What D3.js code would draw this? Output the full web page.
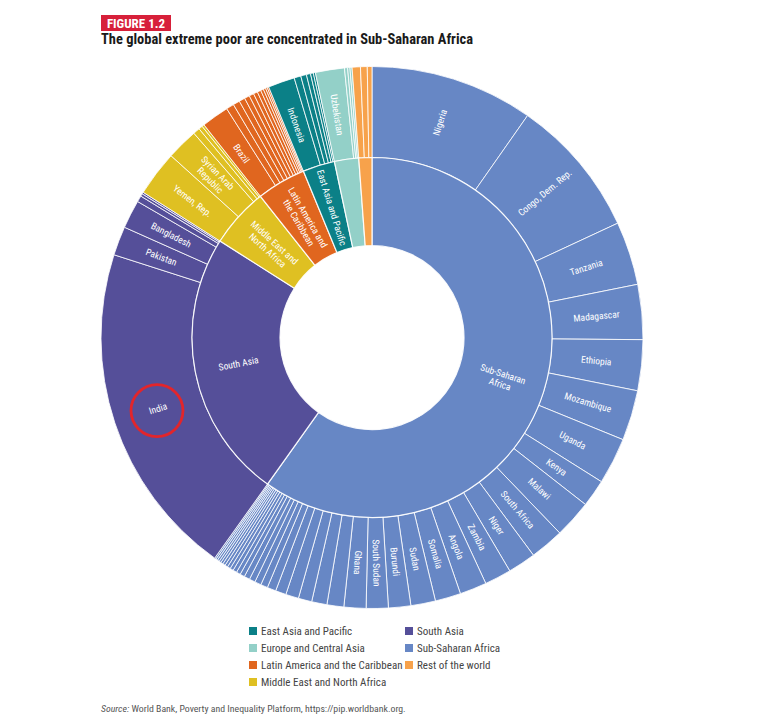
<!DOCTYPE html>
<html><head><meta charset="utf-8">
<script src="https://cdn.jsdelivr.net/npm/d3@7"></script>
<style>
body{margin:0;background:#fff;}
svg text{font-family:"Liberation Sans Narrow","Roboto Condensed","DejaVu Sans Condensed","Arial Narrow",sans-serif;}
</style></head><body>
<svg id="chart" width="759" height="719"></svg>
<script>
// ---------- DATA (extreme poor, millions) ----------
const regionNames = ["Sub-Saharan Africa","South Asia","Middle East and North Africa","Latin America and the Caribbean","East Asia and Pacific","Europe and Central Asia","Rest of the world"];
const regionColors = ["#6787c5","#554f99","#dfc022","#e0661f","#0b8087","#93d0c8","#f7a24b"];
const regionLabels = [["Sub-Saharan","Africa"],["South Asia"],["Middle East and","North Africa"],["Latin America and","the Caribbean"],["East Asia and Pacific"],[],[]];

const ssaCountries = ["Nigeria","Congo, Dem. Rep.","Tanzania","Madagascar","Ethiopia","Mozambique","Uganda","Kenya","Malawi","South Africa","Niger","Zambia","Angola","Somalia","Sudan","Burundi","South Sudan","Ghana","Burkina Faso","Mali","Chad","Cameroon","Zimbabwe","Rwanda","Benin","Guinea","Côte d'Ivoire","Sierra Leone","Central African Republic","Togo","Liberia","Lesotho","Senegal","Eritrea","Namibia","Botswana","Eswatini","Gambia, The","Guinea-Bissau","Congo, Rep."];
const ssaValues = [63,54,24.5,21.2,19.6,19.4,18,10.6,14.6,13.1,10.8,10.3,10.4,9.9,9.5,8.6,8.5,8.5,6.5,5.9,5.2,5.0,4.1,3.4,2.7,2.5,2.3,2.2,1.8,1.6,1.5,1.3,1.2,1.1,1.0,0.9,0.8,0.8,0.7,0.6];
const saCountries = ["India","Pakistan","Bangladesh","Nepal","Afghanistan","Sri Lanka"];
const saValues = [130,11.2,11,2.4,1.0,0.7];
const menaCountries = ["Yemen, Rep.","Syrian Arab Republic","Egypt, Arab Rep.","Iraq","Djibouti"];
const menaValues = [17.5,12.2,2.6,1.5,0.9];
const lacCountries = ["Brazil","Colombia","Haiti","Mexico","Venezuela, RB","Honduras","Guatemala","Peru","Bolivia","Ecuador","Argentina","Nicaragua"];
const lacValues = [10.6,3.0,2.6,2.3,2.0,1.8,1.6,1.4,1.1,0.9,0.7,0.6];
const eapCountries = ["Indonesia","Philippines","Papua New Guinea","China","Myanmar","Lao PDR"];
const eapValues = [10.3,2.6,2.2,1.6,1.1,0.8];
const ecaCountries = ["Uzbekistan","Tajikistan","Türkiye","Kyrgyz Republic"];
const ecaValues = [11.2,1.2,0.9,0.8];
const restCountries = ["North America","Western Europe","Other high income"];
const restValues = [3.2,2.6,1.8];

const countryNames = [ssaCountries,saCountries,menaCountries,lacCountries,eapCountries,ecaCountries,restCountries];
const countryValues = [ssaValues,saValues,menaValues,lacValues,eapValues,ecaValues,restValues];

// countries that carry a label in the figure, with their displayed lines
const labelledCountries = ["Nigeria","Congo, Dem. Rep.","Tanzania","Madagascar","Ethiopia","Mozambique","Uganda","Kenya","Malawi","South Africa","Niger","Zambia","Angola","Somalia","Sudan","Burundi","South Sudan","Ghana","India","Pakistan","Bangladesh","Yemen, Rep.","Syrian Arab Republic","Brazil","Indonesia","Uzbekistan"];
const labelLines = {"Syrian Arab Republic":["Syrian Arab","Republic"]};

const legendCol1 = ["East Asia and Pacific","Europe and Central Asia","Latin America and the Caribbean","Middle East and North Africa"];
const legendCol2 = ["South Asia","Sub-Saharan Africa","Rest of the world"];

const figureTag = "FIGURE 1.2";
const titleText = "The global extreme poor are concentrated in Sub-Saharan Africa";
const sourceLabel = "Source:";
const sourceText = " World Bank, Poverty and Inequality Platform, https://pip.worldbank.org.";
const highlighted = "India";

// ---------- DRAWING ----------
const svg = d3.select("#chart");
const cx = 372, cy = 337.5, rHole = 92, rMid = 180, rOuter = 271;
const colorOf = d3.scaleOrdinal().domain(regionNames).range(regionColors);

const regionData = regionNames.map((name,i)=>({
  name, labels: regionLabels[i],
  countries: countryNames[i].map((c,j)=>({name:c, region:name, value:countryValues[i][j]}))
}));
regionData.forEach(r => r.value = d3.sum(r.countries, c => c.value));

const pie = d3.pie().sort(null).value(d=>d.value).startAngle(0).endAngle(2*Math.PI);
const innerArcs = pie(regionData);
const outerArcs = pie(regionData.flatMap(r => r.countries));

const arcInner = d3.arc().innerRadius(rHole).outerRadius(rMid);
const arcOuter = d3.arc().innerRadius(rMid).outerRadius(rOuter);

const g = svg.append("g").attr("transform",`translate(${cx},${cy})`);

g.selectAll("path.country").data(outerArcs).join("path")
  .attr("class","country").attr("d",arcOuter)
  .attr("fill", d => colorOf(d.data.region))
  .attr("stroke","#ffffff").attr("stroke-opacity",0.8).attr("stroke-width",1);

g.selectAll("path.region").data(innerArcs).join("path")
  .attr("class","region").attr("d",arcInner)
  .attr("fill", d => colorOf(d.data.name))
  .attr("stroke","#ffffff").attr("stroke-opacity",0.9).attr("stroke-width",1.2);

function addLabel(d, r, lines, size){
  const a = (d.startAngle + d.endAngle)/2;
  const x = r*Math.sin(a), y = -r*Math.cos(a);
  let deg = a*180/Math.PI - 90;
  if (deg > 100) deg -= 180;
  const t = g.append("text")
    .attr("transform",`translate(${x},${y}) rotate(${deg})`)
    .attr("text-anchor","middle").attr("fill","#ffffff")
    .style("font-size", size+"px");
  const n = lines.length;
  lines.forEach((l,i)=> t.append("tspan").attr("x",0)
    .attr("dy", i===0 ? (0.35 - (n-1)*0.55)+"em" : "1.1em").text(l));
}

outerArcs.forEach(d => {
  if (labelledCountries.includes(d.data.name)) {
    addLabel(d, (rMid+rOuter)/2, labelLines[d.data.name] || [d.data.name], 9.5);
  }
});
innerArcs.forEach(d => {
  if (d.data.labels.length) addLabel(d, (rHole+rMid)/2, d.data.labels, 9.5);
});

// red highlight circle around India label
const hi = outerArcs.find(d => d.data.name === highlighted);
const hc = d3.arc().innerRadius(rMid).outerRadius(rOuter).centroid(hi);
g.append("circle").attr("cx",hc[0]-1).attr("cy",hc[1]+2).attr("r",26)
  .attr("fill","none").attr("stroke","#e2252b").attr("stroke-width",2.8);

// title
svg.append("rect").attr("x",101).attr("y",15).attr("width",70).attr("height",16).attr("fill","#d7203a");
svg.append("text").attr("x",136).attr("y",28).attr("text-anchor","middle")
  .attr("fill","#fff").style("font-weight","bold").style("font-size","13px").text(figureTag);
svg.append("text").attr("x",101).attr("y",44)
  .attr("fill","#1a1a1a").style("font-weight","bold").style("font-size","14px")
  .attr("textLength",372).attr("lengthAdjust","spacingAndGlyphs").text(titleText);

// legend
const legend = svg.append("g");
const rowY = d3.scalePoint().domain(d3.range(4)).range([631,682]);
function legendCol(items, x){
  items.forEach((name,i)=>{
    legend.append("rect").attr("x",x).attr("y",rowY(i)-4).attr("width",8).attr("height",8).attr("fill",colorOf(name));
    legend.append("text").attr("x",x+12).attr("y",rowY(i)+4).attr("fill","#444")
      .style("font-size","11px").text(name);
  });
}
legendCol(legendCol1, 249);
legendCol(legendCol2, 405);

// source
const src = svg.append("text").attr("x",101).attr("y",712).attr("fill","#555").style("font-size","9.8px");
src.append("tspan").style("font-style","italic").text(sourceLabel);
src.append("tspan").text(sourceText);
</script>
</body></html>
